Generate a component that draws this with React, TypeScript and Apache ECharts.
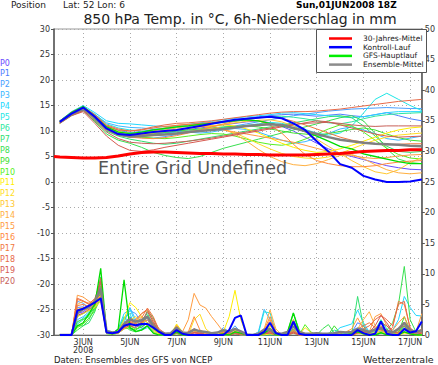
import React, { useEffect, useRef } from "react";
import * as echarts from "echarts";

// x values: hours since 01JUN2008 00Z
const tempHours = Array.from({ length: 32 }, (_, i) => 24 + 12 * i);
const precHours = Array.from({ length: 63 }, (_, j) => 24 + 6 * j);
const climHours = [18, ...tempHours];
const tickHours = [48, 96, 144, 192, 240, 288, 336, 384];
const tickLabels = ["3JUN\n2008", "5JUN", "7JUN", "9JUN", "11JUN", "13JUN", "15JUN", "17JUN"];

const memberNames = ["P0","P1","P2","P3","P4","P5","P6","P7","P8","P9","P10","P11","P12","P13","P14","P15","P16","P17","P18","P19","P20"];
const memberColors = ["#6a4cff","#4f7cff","#4aa0ff","#3cb8ff","#22d8ff","#1ee6e6","#2ee8a0","#30e070","#38e050","#40e030","#58f020","#ffee00","#ffdd22","#ffc830","#ffb040","#ff9c40","#ff8a3c","#f07840","#e86a48","#d85a50","#c86058"];

// 850 hPa temperature (°C), 12-hourly from 02JUN 00Z
const memberTemp: number[][] = [
  [11.6,13.2,14.3,12.4,10.2,9.2,8.8,9.0,9.4,9.6,9.9,10.3,10.6,10.9,11.2,11.5,11.8,12.0,11.6,10.9,10.0,8.8,7.6,6.5,5.6,5.0,4.4,3.8,3.2,2.8,2.5,2.4],
  [11.8,13.6,14.7,13.0,11.0,10.1,9.7,9.9,10.3,10.5,10.8,11.1,11.4,11.6,11.9,12.2,12.5,12.8,13.0,13.2,13.3,13.1,12.9,13.1,13.3,13.0,12.8,13.2,13.6,13.0,12.4,12.0],
  [11.7,13.4,14.5,12.8,10.7,9.7,9.1,8.7,8.6,8.9,9.3,9.7,10.1,10.4,10.7,11.0,11.4,11.8,12.2,12.6,13.0,13.3,13.6,13.9,14.1,14.3,14.4,14.5,14.6,14.5,14.4,14.4],
  [11.9,13.5,14.6,13.2,11.6,11.0,10.7,10.6,10.4,10.2,10.0,9.8,9.6,9.8,10.2,10.5,10.3,9.8,9.0,8.2,7.6,7.9,8.6,9.5,10.4,10.8,10.2,9.5,8.5,8.2,8.6,9.0],
  [12.0,13.8,15.0,13.6,12.0,11.5,11.4,11.2,11.0,10.8,11.0,11.3,11.6,11.9,12.2,12.5,12.8,13.0,13.2,13.5,13.6,13.4,13.2,13.0,12.8,12.6,12.8,13.2,13.6,13.8,13.8,13.8],
  [11.8,13.5,14.8,13.3,11.4,10.6,10.2,10.0,9.8,9.6,9.7,10.0,10.3,10.5,10.7,10.9,11.1,11.4,11.7,11.5,11.0,10.3,9.6,9.2,9.6,11.0,13.5,16.2,17.4,16.2,15.0,14.0],
  [11.7,13.4,14.6,12.9,10.8,9.9,9.6,9.8,10.1,10.4,10.7,10.9,11.2,11.4,11.7,12.0,12.3,12.6,12.8,12.9,12.7,12.4,12.0,11.6,11.4,11.8,12.4,12.9,13.2,13.4,13.5,13.6],
  [11.6,13.2,14.2,12.2,10.0,9.0,8.4,8.0,7.6,7.4,7.6,8.0,8.4,8.8,9.2,9.6,10.0,10.4,10.8,11.2,11.6,12.0,12.4,12.8,13.0,12.6,11.0,9.0,7.0,6.0,5.8,6.0],
  [11.5,13.0,14.0,11.8,9.4,8.2,7.6,6.8,5.8,5.2,4.8,4.6,5.0,5.8,6.6,7.2,7.8,8.4,9.0,9.6,10.2,10.8,11.4,12.0,12.6,13.0,12.0,9.5,6.5,4.5,3.8,3.6],
  [11.7,13.4,14.5,12.6,10.4,9.4,9.0,9.2,9.5,9.7,10.0,10.2,10.4,10.6,10.8,10.9,11.0,10.8,10.4,10.0,9.6,9.4,9.2,9.5,9.9,10.3,10.6,10.2,9.4,8.7,8.2,8.0],
  [11.8,13.5,14.7,12.9,10.6,9.5,9.0,8.8,8.6,8.5,8.7,9.0,9.3,9.5,9.4,9.0,8.4,7.8,7.4,7.2,7.6,8.4,9.4,10.4,11.2,11.0,9.8,8.2,6.6,5.4,4.7,4.5],
  [11.9,13.6,14.6,12.9,10.9,9.9,9.5,9.6,9.8,10.0,10.3,10.6,10.8,11.0,11.2,11.0,10.4,9.6,8.6,7.6,6.8,6.2,5.8,6.0,6.5,7.2,8.0,8.8,9.6,10.2,10.6,10.8],
  [11.6,13.3,14.3,12.5,10.3,9.2,8.8,8.9,9.1,9.3,9.6,9.9,10.2,10.5,10.3,9.6,8.6,7.5,6.5,5.6,5.0,4.7,4.6,4.9,5.6,6.5,7.4,8.2,8.8,9.2,9.4,9.6],
  [11.7,13.3,14.4,12.6,10.4,9.4,9.1,9.3,9.6,9.9,10.2,10.5,10.8,11.0,11.3,11.6,11.9,12.1,12.2,11.8,11.0,9.8,8.4,7.0,5.6,4.2,3.0,2.0,1.6,2.4,3.8,4.8],
  [11.8,13.5,14.5,12.7,10.5,9.5,9.2,9.4,9.8,10.2,10.6,11.0,11.2,11.0,10.4,9.4,8.0,6.4,5.0,4.0,3.4,3.2,3.6,4.4,5.2,5.4,4.6,3.4,2.4,1.8,1.6,1.8],
  [11.6,13.2,14.2,12.4,10.2,9.2,9.0,9.4,10.0,10.6,11.1,11.3,11.0,10.6,10.2,9.8,9.4,9.0,8.6,8.2,7.8,7.2,6.6,6.0,5.6,5.2,4.8,4.6,4.8,5.1,5.3,5.4],
  [11.7,13.4,14.4,12.6,10.4,9.3,8.8,8.6,8.5,8.7,9.1,9.6,10.2,10.8,11.4,11.9,12.2,12.0,11.2,9.6,7.4,5.4,4.2,3.6,3.2,3.0,3.0,3.2,3.6,3.9,4.1,4.2],
  [11.9,13.7,14.8,13.2,11.2,10.4,10.0,10.2,10.6,10.9,11.1,11.3,11.5,11.7,11.9,12.1,12.4,12.6,12.7,12.5,11.9,11.2,10.4,9.6,8.8,8.2,7.8,7.5,7.3,7.4,7.5,7.5],
  [11.8,13.6,14.6,13.0,11.0,10.2,10.0,10.3,10.8,11.2,11.5,11.6,11.8,12.0,12.3,12.6,12.9,13.2,13.5,13.7,13.8,13.8,13.9,14.1,14.3,14.6,14.9,15.2,15.5,15.8,16.0,16.2],
  [11.5,13.0,13.8,11.5,9.0,7.2,6.2,6.0,6.3,6.8,7.2,7.6,8.0,8.4,8.8,9.2,9.6,10.0,10.4,10.8,11.2,11.6,12.0,11.8,11.2,10.6,10.0,9.4,9.0,8.8,8.9,9.0],
  [11.6,13.1,14.0,12.0,9.8,8.5,7.8,7.6,7.5,7.6,7.8,8.0,8.3,8.6,9.0,9.4,9.8,10.2,10.6,11.0,11.3,11.5,11.6,11.7,11.5,11.2,11.0,10.9,11.0,11.0,11.0,11.0],
];
const controlTemp = [11.8,13.4,14.6,12.8,10.5,9.4,9.2,9.5,9.8,10.0,10.2,10.6,11.0,11.4,11.8,12.2,12.4,12.6,12.8,12.5,11.5,10.2,8.0,6.0,3.5,2.8,1.2,0.5,0.0,0.0,0.1,0.5];
const meanTemp = [11.8,13.3,14.4,12.6,10.4,9.3,8.9,9.0,9.2,9.3,9.5,9.8,10.0,10.2,10.4,10.7,11.0,11.2,11.3,11.2,10.6,10.0,9.4,8.8,8.3,8.0,7.7,7.5,7.4,7.3,7.1,7.0];
const mainTemp = [11.9,13.6,14.8,12.8,10.8,9.8,9.5,9.8,10.2,10.5,10.8,11.0,11.3,11.5,11.8,12.0,12.2,12.0,11.5,11.0,10.5,10.0,9.0,8.0,7.0,6.5,5.5,5.0,4.5,4.0,3.6,3.6];
const climTemp = [5.0,4.9,4.8,4.7,4.7,4.8,5.1,5.5,5.8,5.9,5.9,5.8,5.7,5.6,5.6,5.5,5.5,5.4,5.4,5.3,5.3,5.3,5.3,5.4,5.5,5.6,5.8,6.0,6.1,6.2,6.2,6.3,6.3];

// 6h precipitation (mm), 6-hourly from 02JUN 00Z
const memberPrec: number[][] = [
  [0,0,0,3.5, 3.8,4.5,5.2,6.8, 0.5,0.3,0.4,1.2, 2.0,1.5,1.2,2.0, 1.0,0.2,0,0, 0.6,0,0,0, 0,0,0,0, 0,0.3,1.0,0.5, 0,0,0,0.3, 0.5,0,0,0, 1.0,0,0,0, 0,0,0,0, 0,0,0,0.5, 0.4,0,0.3,1.0, 0.3,0,0,0.5, 0.2,0,0.4],
  [0,0,0,4.5, 4.6,4.2,4.8,7.5, 0.4,0.2,0.5,1.8, 3.0,1.8,1.5,2.5, 0.8,0.3,0,0, 1.0,0,0,0.5, 0.3,0,0,0, 0.6,0.2,0.5,0.3, 0,0,0,0.8, 0.4,0,0,0, 0.6,0.2,0,0, 0,0,0,0, 0,0,0.4,2.0, 1.5,0.5,0.3,0.6, 0.4,0,0.5,1.2, 0.5,0.2,0.3],
  [0,0,0,5.5, 5.2,4.4,5.8,8.0, 0.6,0.3,0.8,2.5, 4.0,3.5,2.0,2.8, 1.0,0.2,0,0, 1.5,0.4,0,0.5, 0.2,0,0,0.3, 1.2,0.5,1.5,0.4, 0,0,0,0.5, 0.8,0,0,0.2, 1.5,0.3,0,0, 0,0,0,0, 0.5,0.3,0.6,1.2, 1.0,0.2,0.6,1.4, 0.5,0.3,0.8,1.5, 0.5,0.2,0.5],
  [0,0,0,2.5, 3.0,3.8,5.0,7.8, 0.8,0.5,0.6,2.0, 4.5,2.5,1.5,2.0, 0.5,0,0,0, 1.2,0.3,0,0, 0,0,0,0, 0.5,0.3,0.8,0.2, 0,0,0.5,4.2, 2.5,0.5,0,0, 0.5,0,0,0, 0,0,0.3,0, 0,0,0.2,0.8, 0.3,0,0,0.5, 0.2,0,0.3,0.8, 0.3,0,0.2],
  [0,0,0,3.0, 3.5,4.0,4.2,6.5, 0.5,0.3,1.0,3.5, 4.2,2.0,1.0,1.5, 0.8,0.3,0,0, 0.8,0,0,0, 0,0,0,0, 0.3,0,0.3,0, 0,0,0,0, 0,0,0,0, 0.3,0,0,0, 0,0,0,0.3, 1.2,1.5,1.8,4.1, 2.0,0.5,0.3,0.5, 0.5,0.8,2.5,6.3, 4.5,3.2,3.1],
  [0,0,0,2.0, 2.8,3.5,4.5,8.5, 0.6,0.4,0.8,2.8, 3.5,1.2,0.8,1.2, 0.3,0,0,0, 0.5,0,0,0, 0,0,0,0, 0,0,0.2,0, 0,0,0.2,3.8, 3.6,0.5,0,0, 0.8,0,0,0, 0,0,0,0, 0,0,0.3,0.6, 0.8,0.3,0.5,1.0, 0.2,0,0.5,1.5, 0.8,0.3,0.5],
  [0,0,0,1.8, 2.5,3.0,4.0,7.2, 0.4,0.2,0.8,3.0, 2.0,1.5,2.5,3.5, 1.8,0.5,0,0, 0.5,0,0,0, 0,0,0,0, 0,0,0.5,0.2, 0,0,0,0.5, 1.0,0.2,0,0.5, 2.5,0.5,0,0, 0,0,0,0.8, 0.5,0.2,0.3,0.5, 0.5,0.2,0.8,2.5, 1.0,0.2,0.5,1.5, 0.5,0,0.3],
  [0,0,0,1.5, 1.5,2.0,3.8,9.5, 0.3,0.2,0.5,2.0, 1.0,0.8,1.5,4.0, 2.8,0.5,0,0, 0.3,0,0,0, 0,0,0,0, 0,0,0.3,0.5, 0,0,0,0.2, 0.5,0,0,0.5, 3.6,0.8,0,0, 0,0,0,0, 0,0,0.2,6.3, 1.5,0,0,0.3, 0.2,0,0.5,2.0, 0.5,0,0],
  [0,0,0,0.8, 1.5,2.5,4.5,8.0, 0.3,0.1,0.3,1.5, 0.8,0.5,0.8,1.5, 0.5,0,0,0, 0.3,0,0,0, 0,0,0,0, 0,0,0.2,0, 0,0,0,0, 0,0,0,0, 0.8,0,0,0, 0,1.0,1.7,0.3, 0,0,0,0.5, 0.2,0,0,0.3, 0.8,2.0,5.0,11.2, 2.5,0.5,0],
  [0,0,0,2.2, 2.6,3.2,4.6,7.0, 0.5,0.2,0.4,1.6, 1.5,1.0,1.3,2.0, 1.0,0.2,0,0, 0.8,0,0,0, 0,0,0,0, 0,0,0.4,0.2, 0,0,0,0.4, 1.2,0,0,0.3, 1.8,0.3,0,0, 0,0,0,1.5, 0.3,0,0,0.8, 0.3,0,0,0.5, 0.2,0,0.4,3.0, 0.8,0,0],
  [0,0,0,1.2, 1.8,2.8,4.0,6.0, 0.2,0.1,0.3,1.0, 1.2,0.8,1.6,3.2, 1.0,0.2,0,0, 0.2,0,0,0, 0,0,0,0, 0,0,0.5,0.2, 0,0,0,0, 0.3,0,0,0, 1.0,0,1.7,0.5, 0,0,0,0, 0,0,0,0.5, 0.2,0,0,0.4, 0,0,0.3,1.5, 0.3,0,0],
  [0,0,0,3.0, 3.5,4.0,4.5,6.5, 0.3,0.2,0.6,2.5, 5.3,4.5,3.0,2.0, 0.8,0.2,0,0, 1.8,0.5,0,1.0, 0.5,0,0,0, 0.5,3.0,7.3,2.5, 0,0,0,0, 0.2,0,0,0, 0.5,0,0,0, 0,0,0,0, 0,0,0,0.3, 0.2,0,0,0.5, 0.2,0,0,0.3, 0.2,0,0],
  [0,0,0,3.8, 4.2,4.5,5.0,6.0, 0.4,0.3,0.5,1.5, 2.5,3.0,2.2,1.5, 0.5,0,0,0, 1.2,0.2,0,2.5, 3.4,1.0,0.2,0.3, 0.5,0.2,0.8,0.3, 0,0,0,0.2, 0.5,0,0,0, 0.3,0,1.2,0.4, 0,0,0,0, 0,0,0,0.3, 0.2,0,0.5,0.8, 0.3,0,0.2,0.4, 0.2,0,0.3],
  [0,0,0,4.2, 4.5,4.0,4.5,5.5, 0.3,0.2,0.4,1.2, 1.5,2.5,3.0,2.0, 1.0,0.3,0,0, 1.6,0.3,0,0.5, 0.8,0.2,0,0, 0.3,0,0.3,0, 0,0,0,0.5, 1.5,0.2,0,0, 0.5,0,0,0, 0,0,0,0, 0,0,0,0.2, 0.5,0.3,0.3,0.5, 0.2,0,0.3,0.5, 0.2,0,0.3],
  [0,0,0,5.0, 5.5,5.0,5.5,6.5, 0.6,0.4,0.8,2.0, 2.5,2.0,3.5,4.0, 2.0,0.5,0,0, 1.0,0.2,0,0.8, 0.5,0.2,0,0, 0.4,0.2,0.5,0.3, 0,0,0,1.0, 4.1,1.0,0,0, 0.8,0,0,0, 0,0,0,0, 0,0,0.3,1.0, 2.5,3.8,1.5,0.8, 0.5,0.3,0.8,1.8, 0.6,0.3,0.8],
  [0,0,0,6.5, 6.2,5.5,5.0,5.8, 0.4,0.2,0.3,1.0, 1.5,1.8,2.5,3.0, 1.5,0.3,0,0, 0.5,0.5,2.5,6.8, 4.9,4.4,3.0,1.8, 0.5,0.2,0.3,0.2, 0,0,0,0.5, 2.5,0.5,0,0, 0.5,0,0,0, 0,0,0,0, 0.3,0.5,1.0,2.8, 1.0,0.5,3.0,3.5, 1.5,0.8,2.0,3.0, 0.5,0.5,3.5],
  [0,0,0,5.8, 5.5,5.2,5.8,6.2, 0.5,0.3,0.6,1.8, 2.0,1.5,2.0,2.5, 1.2,0.5,0,0, 1.5,0.3,0.5,3.0, 0.8,0.3,0,0, 0.3,0,0.5,0.3, 0,0,0,0.8, 3.0,0.5,0,0.5, 2.5,0.3,0,0, 0,0,0,0, 0,0,0,0.5, 0.8,0.5,0.8,1.5, 0.5,0.3,0.5,1.0, 0.5,0.3,1.0],
  [0,0,0,4.8, 5.0,4.6,5.2,7.2, 0.5,0.3,0.5,1.5, 2.2,1.8,2.8,4.4, 3.0,0.8,0.2,0, 0.6,0,0,0.5, 0.3,0,0,0, 0.5,0.2,0.5,0.3, 0,0,0,0.5, 1.0,0.2,0,0, 0.8,0,0,0, 0,0,0,0, 0,0,0.2,1.0, 1.5,2.0,1.2,0.8, 0.5,1.2,5.5,5.0, 1.2,0.3,0.5],
  [0,0,0,6.0, 5.6,5.0,6.0,8.6, 0.5,0.2,0.5,1.5, 2.0,2.5,3.5,4.2, 2.5,1.0,0.3,0, 0.8,0.2,0,0.3, 0.2,0,0,0, 0.2,0,0.3,0.2, 0,0,0,0.2, 0.5,0,0,0, 0.5,0,0,0, 0,0,0,0, 0,0,0,0.4, 1.0,1.5,2.5,3.2, 2.5,1.5,5.0,5.5, 1.0,0.3,0.8],
  [0,0,0,4.0, 4.4,4.8,5.6,9.3, 0.4,0.2,0.4,1.2, 1.5,1.2,2.0,3.0, 2.0,0.5,0,0, 0.3,0,0.5,1.0, 0.5,0,0,0, 0,0,0.2,0, 0,0,0,0.2, 0.3,0,0,0, 0.3,0,0,0, 0,0,0,0, 0,0,0,0.3, 0.5,0.5,1.5,3.2, 2.0,0.5,0.3,0.5, 0.2,0,0.3],
  [0,0,0,3.2, 3.6,4.2,5.0,8.8, 0.6,0.3,0.4,1.4, 1.8,1.5,2.2,3.8, 2.2,0.6,0.2,0, 0.5,0,0,0.4, 0.3,0,0,0, 0.2,0,0.4,0.2, 0,0,0,0.3, 0.6,0,0,0, 0.5,0,0,0, 0,0,0,0, 0,0,0,0.4, 0.6,0.3,1.0,2.0, 1.5,0.5,1.0,1.5, 0.5,0,0.4],
];
const controlPrec = [0,0,0,4.0, 4.3,4.8,5.3,6.0, 0.4,0.3,0.5,1.5, 1.8,1.6,1.8,1.8, 1.2,0.5,0,0, 0.8,0.2,0,0, 0,0,0,0, 0,0.8,2.8,3.2, 0,0,0,0.5, 2.0,0.3,0,0, 2.2,0.2,0,0, 0,0,0,0, 0,0,0,0.8, 0.3,0,0.2,2.2, 0.2,0,0,1.0, 0.4,0.6,2.2];
const meanPrec = [0,0,0,3.6, 4.2,4.6,5.5,7.6, 0.6,0.4,0.5,1.8, 2.6,2.2,2.4,3.0, 1.5,0.6,0.2,0.3, 1.2,0.4,0.3,0.9, 0.6,0.5,0.3,0.4, 0.8,0.5,1.0,0.6, 0.1,0,0.2,0.9, 0.9,0.3,0.2,0.5, 1.4,0.5,0.2,0.2, 0.3,0.2,0.2,0.3, 0.5,0.4,0.5,1.0, 0.8,0.5,0.9,1.1, 0.7,0.4,1.0,2.0, 0.8,0.5,0.8];
const mainPrec = [0,0,0,1.5, 2.0,3.5,5.0,10.9, 0.5,0.2,1.0,9.0, 1.2,0.6,0.8,1.5, 0.3,0,0,0, 0.5,0,0,0, 0,0,0,0, 0.2,0,0.5,0.3, 0,0,0,0.3, 1.0,0,0,0.5, 3.6,0.5,0,0, 0,0,0,0, 0,0,0.3,0.5, 0.2,0,0,0.4, 0,0,0,0.5, 0.2,0,0];

const legendNames = ["30-Jahres-Mittel", "Kontroll-Lauf", "GFS-Hauptlauf", "Ensemble-Mittel"];
const legendColors = ["#ff0000", "#0000ff", "#00ee00", "#8c8c8c"];

const FONT = "DejaVu Sans";

export default function App() {
  const ref = useRef<HTMLDivElement>(null);
  useEffect(() => {
    if (!ref.current) return;
    const chart = echarts.init(ref.current, null, { renderer: "svg" });
    const series: any[] = [];
    const line = (name: string, xs: number[], ys: number[], color: string, width: number, yAxisIndex: number) => ({
      type: "line",
      name,
      yAxisIndex,
      data: xs.map((x, k) => [x, ys[k]]),
      showSymbol: false,
      symbol: "none",
      silent: true,
      lineStyle: { color, width },
      emphasis: { disabled: true },
    });
    memberTemp.forEach((ys, i) => series.push(line(memberNames[i], tempHours, ys, memberColors[i], 1, 0)));
    memberPrec.forEach((ys, i) => series.push(line(memberNames[i] + "p", precHours, ys, memberColors[i], 1, 1)));
    series.push(line("GFS-Hauptlauf", tempHours, mainTemp, "#00dd00", 1.3, 0));
    series.push(line("GFS-Hauptlauf p", precHours, mainPrec, "#00dd00", 1.3, 1));
    series.push(line("Ensemble-Mittel", tempHours, meanTemp, "#808080", 2.5, 0));
    series.push(line("Ensemble-Mittel p", precHours, meanPrec, "#808080", 2.5, 1));
    series.push(line("Kontroll-Lauf", tempHours, controlTemp, "#0000ff", 2, 0));
    series.push(line("Kontroll-Lauf p", precHours, controlPrec, "#0000ff", 2, 1));
    series.push(line("30-Jahres-Mittel", climHours, climTemp, "#ff0000", 3, 0));

    const txt = (text: string, x: number, y: number, size: number, color: string, extra: any = {}) => ({
      type: "text",
      x,
      y,
      z: 100,
      silent: true,
      style: {
        text,
        fill: color,
        fontSize: size,
        fontFamily: FONT,
        textAlign: extra.align || "left",
        align: extra.align || "left",
        textVerticalAlign: "middle",
        verticalAlign: "middle",
        fontWeight: extra.weight || "normal",
      },
    });

    const graphics: any[] = [];
    graphics.push(txt("Position", 11, 5, 9, "#222"));
    graphics.push(txt("Lat: 52 Lon: 6", 63, 5, 9, "#222"));
    graphics.push(txt("Sun,01JUN2008 18Z", 296, 5, 9, "#000", { weight: "bold" }));
    graphics.push(txt("850 hPa Temp. in °C, 6h-Niederschlag in mm", 240, 18.5, 14, "#222", { align: "center" }));
    memberNames.forEach((n, i) => graphics.push(txt(n, 0, 63 + i * 10.9, 8, memberColors[i])));
    graphics.push(txt("Entire Grid Undefined", 98, 168, 17.5, "#555"));
    graphics.push(txt("Daten: Ensembles des GFS von NCEP", 54, 359.5, 8.5, "#222"));
    graphics.push(txt("Wetterzentrale", 363, 359, 9.5, "#222"));
    graphics.push({
      type: "rect",
      z: 99,
      silent: true,
      shape: { x: 316.5, y: 29.5, width: 110, height: 43 },
      style: { fill: "#fff", stroke: "#555", lineWidth: 1 },
    });
    legendNames.forEach((n, i) => {
      const y = 38.5 + i * 8.7;
      graphics.push({
        type: "line",
        z: 100,
        silent: true,
        shape: { x1: 329, y1: y, x2: 352, y2: y },
        style: { stroke: legendColors[i], lineWidth: 2.5 },
      });
      graphics.push(txt(n, 363, y, 7.5, "#222"));
    });

    chart.setOption({
      animation: false,
      backgroundColor: "#fff",
      textStyle: { fontFamily: FONT },
      grid: { left: 54, right: 12, top: 29, bottom: 30, show: true, borderColor: "#999", borderWidth: 1, containLabel: false },
      xAxis: {
        type: "value",
        min: 18,
        max: 396,
        axisLine: { show: true, onZero: false, lineStyle: { color: "#666", width: 1 } },
        axisTick: { show: false, customValues: tickHours },
        axisLabel: {
          customValues: tickHours,
          formatter: (v: number) => {
            const k = tickHours.indexOf(v);
            return k >= 0 ? tickLabels[k] : "";
          },
          fontSize: 8,
          color: "#333",
          margin: 3,
          lineHeight: 8,
          fontFamily: FONT,
        },
        splitLine: { show: true, lineStyle: { color: "#aaa", type: [1, 3], width: 1 } },
      },
      yAxis: [
        {
          type: "value",
          min: -30,
          max: 30,
          interval: 5,
          position: "left",
          axisLine: { show: true, onZero: false, lineStyle: { color: "#555", width: 1.5 } },
          axisTick: { show: true, length: 3, inside: false, lineStyle: { color: "#555" } },
          axisLabel: { fontSize: 8, color: "#333", margin: 4, fontFamily: FONT },
          splitLine: { show: true, lineStyle: { color: "#aaa", type: [1, 3], width: 1 } },
        },
        {
          type: "value",
          min: 0,
          max: 50,
          interval: 5,
          position: "right",
          axisLine: { show: true, onZero: false, lineStyle: { color: "#555", width: 1.5 } },
          axisTick: { show: true, length: 3, inside: false, lineStyle: { color: "#555" } },
          axisLabel: { fontSize: 8, color: "#333", margin: 3, fontFamily: FONT },
          splitLine: { show: false },
        },
      ],
      series,
      graphic: graphics,
    });
    return () => chart.dispose();
  }, []);
  return <div ref={ref} style={{ width: 438, height: 365, position: "absolute", left: 0, top: 0 }} />;
}
